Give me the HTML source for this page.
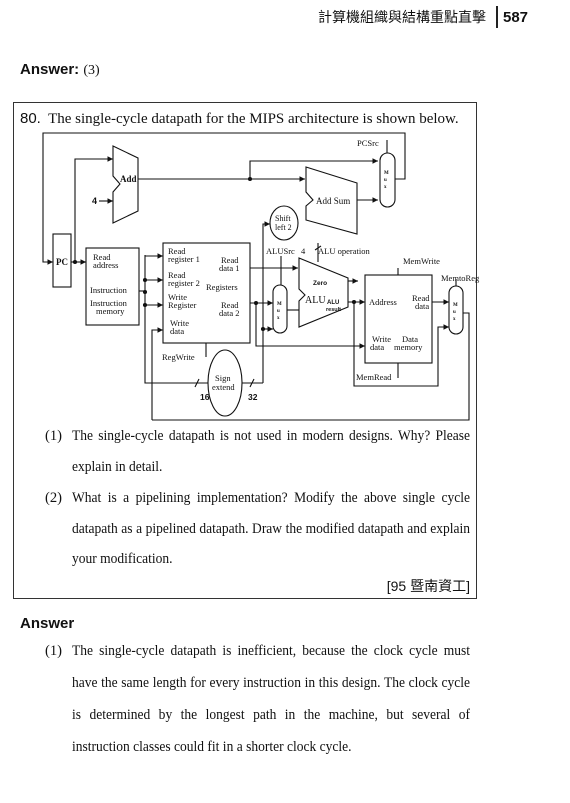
<!DOCTYPE html>
<html><head><meta charset="utf-8"><style>
body{margin:0;width:570px;height:803px;background:#fff;position:relative;overflow:hidden;font-family:"Liberation Serif",serif;color:#111}
.a{position:absolute;white-space:nowrap}
.s{font-family:"Liberation Sans","Noto Sans CJK TC",sans-serif}
.p{position:absolute;left:72px;width:430px;font-size:14.6px;text-align:justify;text-align-last:justify;white-space:nowrap;transform:scaleX(0.9256);transform-origin:0 0}
.n{position:absolute;left:45px;font-size:14.6px}
</style></head><body>
<div class="a s" style="left:318px;top:7px;font-size:14px">計算機組織與結構重點直擊</div>
<div class="a" style="left:496px;top:6px;width:2px;height:22px;background:#222"></div>
<div class="a s" style="left:503px;top:9px;font-size:15px;font-weight:bold">587</div>
<div class="a s" style="left:20px;top:61px;font-size:15px;font-weight:bold">Answer: <span style="font-family:'Liberation Serif',serif;font-weight:normal;font-size:14px">(3)</span></div>
<div class="a" style="left:13px;top:102px;width:462px;height:495px;border:1.5px solid #333"></div>
<div class="a" style="left:20px;top:110px;font-size:15px"><span class="s">80.</span>&nbsp; The single-cycle datapath for the MIPS architecture is shown below.</div>
<svg class="a" style="left:0;top:0" width="570" height="430" font-family="Liberation Serif,serif" font-size="9" stroke="#111" fill="none" stroke-width="1.1">
<defs><marker id="ar" markerWidth="6" markerHeight="6" refX="5" refY="3" orient="auto"><path d="M0,0.5L5,3L0,5.5z" fill="#111" stroke="none"/></marker></defs>
<path d="M395,179H405V133H43V262H53" marker-end="url(#ar)"/>
<rect x="53" y="234" width="18" height="53"/>
<text x="56" y="265" fill="#111" stroke="none" font-weight="bold">PC</text>
<path d="M71,262H86" marker-end="url(#ar)"/>
<circle cx="75" cy="262" r="1.5" fill="#111"/>
<path d="M75,262V159H113" marker-end="url(#ar)"/>
<path d="M113,146L138,158V211L113,223V192L120,184L113,176Z"/>
<text x="120" y="182" fill="#111" stroke="none" font-weight="bold">Add</text>
<text x="92" y="204" fill="#111" stroke="none" font-weight="bold" font-family="Liberation Sans">4</text>
<path d="M99,201H113" marker-end="url(#ar)"/>
<path d="M138,179H305" marker-end="url(#ar)"/>
<circle cx="250" cy="179" r="1.5" fill="#111"/>
<path d="M250,179V161H378" marker-end="url(#ar)"/>
<path d="M306,167L357,183V234L306,220V206L313,200L306,192Z"/>
<text x="316" y="204" fill="#111" stroke="none">Add Sum</text>
<path d="M357,200H378" marker-end="url(#ar)"/>
<rect x="380" y="153" width="15" height="54" rx="7.5"/>
<text x="384" y="174" fill="#111" stroke="none" font-size="5" font-weight="bold">M</text><text x="384" y="181" fill="#111" stroke="none" font-size="5" font-weight="bold">u</text><text x="384" y="188" fill="#111" stroke="none" font-size="5" font-weight="bold">x</text>
<text x="357" y="146" fill="#111" stroke="none" font-size="8.5">PCSrc</text>
<path d="M387,140V153"/>
<ellipse cx="284" cy="223" rx="14" ry="17"/>
<text x="275" y="221" fill="#111" stroke="none" font-size="8">Shift</text>
<text x="275" y="230" fill="#111" stroke="none" font-size="8">left 2</text>
<path d="M263,383V224H270" marker-end="url(#ar)"/>
<rect x="86" y="248" width="53" height="77"/>
<g fill="#111" stroke="none" font-size="8.5">
<text x="93" y="260">Read</text><text x="93" y="268">address</text>
<text x="90" y="293">Instruction</text>
<text x="90" y="306">Instruction</text><text x="96" y="314">memory</text>
</g>
<path d="M139,291H145"/>
<path d="M145,255V383H208"/>
<circle cx="145" cy="292" r="1.5" fill="#111"/><circle cx="145" cy="280" r="1.5" fill="#111"/><circle cx="145" cy="305" r="1.5" fill="#111"/>
<path d="M145,256H163" marker-end="url(#ar)"/><path d="M145,280H163" marker-end="url(#ar)"/><path d="M145,305H163" marker-end="url(#ar)"/>
<path d="M152,420V330H163" marker-end="url(#ar)"/>
<path d="M195,387L199,379M250,387L254,379"/>
<rect x="163" y="243" width="87" height="100"/>
<g fill="#111" stroke="none" font-size="8.5">
<text x="168" y="254">Read</text><text x="168" y="262">register 1</text>
<text x="221" y="263">Read</text><text x="219" y="271">data 1</text>
<text x="168" y="278">Read</text><text x="168" y="286">register 2</text><text x="206" y="290">Registers</text>
<text x="168" y="300">Write</text><text x="168" y="308">Register</text>
<text x="221" y="308">Read</text><text x="219" y="316">data 2</text>
<text x="170" y="326">Write</text><text x="170" y="334">data</text>
<text x="162" y="360">RegWrite</text>
<text x="200" y="400" font-family="Liberation Sans" font-weight="bold">16</text>
<text x="248" y="400" font-family="Liberation Sans" font-weight="bold">32</text>
<text x="266" y="254">ALUSrc</text><text x="301" y="254">4</text><text x="318" y="254">ALU operation</text>
<text x="403" y="264">MemWrite</text><text x="441" y="281">MemtoReg</text><text x="356" y="380">MemRead</text>
<text x="215" y="381">Sign</text><text x="212" y="390">extend</text>
<text x="313" y="285" font-size="6.5" font-weight="bold" font-family="Liberation Sans">Zero</text>
<text x="305" y="303" font-size="10">ALU</text><text x="327" y="304" font-size="6" font-weight="bold" font-family="Liberation Sans">ALU</text>
<text x="326" y="311" font-size="5.5" font-weight="bold" font-family="Liberation Sans">result</text>
<text x="369" y="305">Address</text><text x="412" y="301">Read</text><text x="415" y="309">data</text>
<text x="372" y="342">Write</text><text x="402" y="342">Data</text><text x="370" y="350">data</text><text x="394" y="350">memory</text>
</g>
<path d="M206,343V357"/>
<ellipse cx="225" cy="383" rx="17" ry="33"/>
<path d="M242,383H263"/>
<circle cx="263" cy="329" r="1.5" fill="#111"/>
<path d="M263,329H273" marker-end="url(#ar)"/>
<path d="M250,268H298" marker-end="url(#ar)"/>
<path d="M250,303H273" marker-end="url(#ar)"/>
<circle cx="256" cy="303" r="1.5" fill="#111"/>
<path d="M256,303V346H365" marker-end="url(#ar)"/>
<rect x="273" y="285" width="14" height="48" rx="7"/>
<text x="277" y="305" fill="#111" stroke="none" font-size="5" font-weight="bold">M</text><text x="277" y="312" fill="#111" stroke="none" font-size="5" font-weight="bold">u</text><text x="277" y="319" fill="#111" stroke="none" font-size="5" font-weight="bold">x</text>
<path d="M281,256V285"/>
<path d="M287,310H299"/>
<path d="M299,258L348,278V307L299,327V301L305,295L299,289Z"/>
<path d="M318,243L318,262M315,250L321,246"/>
<path d="M348,281H358" marker-end="url(#ar)"/>
<path d="M348,302H365" marker-end="url(#ar)"/>
<circle cx="354" cy="302" r="1.5" fill="#111"/>
<path d="M354,302V386H438V327H449" marker-end="url(#ar)"/>
<rect x="365" y="275" width="67" height="88"/>
<path d="M398,268V275M398,363V378M456,279V286"/>
<path d="M432,302H449" marker-end="url(#ar)"/>
<rect x="449" y="286" width="14" height="48" rx="7"/>
<text x="453" y="306" fill="#111" stroke="none" font-size="5" font-weight="bold">M</text><text x="453" y="313" fill="#111" stroke="none" font-size="5" font-weight="bold">u</text><text x="453" y="320" fill="#111" stroke="none" font-size="5" font-weight="bold">x</text>
<path d="M463,313H469V420H152"/>
</svg>
<div class="n" style="top:428px">(1)</div><div class="p" style="top:428px">The single-cycle datapath is not used in modern designs. Why? Please</div>
<div class="p" style="top:459px;text-align-last:left">explain in detail.</div>
<div class="n" style="top:490px">(2)</div><div class="p" style="top:490px">What is a pipelining implementation? Modify the above single cycle</div>
<div class="p" style="top:521px">datapath as a pipelined datapath. Draw the modified datapath and explain</div>
<div class="p" style="top:551px;text-align-last:left">your modification.</div>
<div class="a s" style="right:100px;top:576px;font-size:14px">[95 暨南資工]</div>
<div class="a s" style="left:20px;top:615px;font-size:15px;font-weight:bold">Answer</div>
<div class="n" style="top:643px">(1)</div><div class="p" style="top:643px">The single-cycle datapath is inefficient, because the clock cycle must</div>
<div class="p" style="top:675px">have the same length for every instruction in this design. The clock cycle</div>
<div class="p" style="top:707px">is determined by the longest path in the machine, but several of</div>
<div class="p" style="top:739px;text-align-last:left">instruction classes could fit in a shorter clock cycle.</div>
</body></html>
